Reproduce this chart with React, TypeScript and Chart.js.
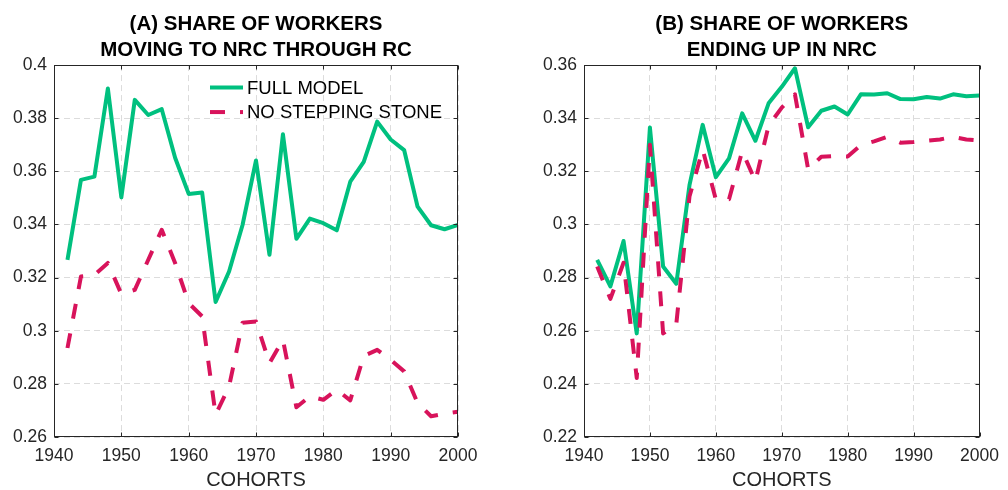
import React, { useEffect, useRef } from "react";
import { Chart, registerables } from "chart.js";

Chart.register(...registerables);

const years = [1942, 1944, 1946, 1948, 1950, 1952, 1954, 1956, 1958, 1960, 1962, 1964, 1966, 1968, 1970, 1972, 1974, 1976, 1978, 1980, 1982, 1984, 1986, 1988, 1990, 1992, 1994, 1996, 1998, 2000];

const fullModelA = [0.3267, 0.3568, 0.358, 0.3912, 0.3502, 0.3869, 0.3812, 0.3834, 0.365, 0.3515, 0.352, 0.3108, 0.3223, 0.3398, 0.3641, 0.3286, 0.374, 0.3346, 0.3422, 0.3405, 0.3378, 0.3561, 0.3636, 0.3787, 0.372, 0.368, 0.3467, 0.3397, 0.3382, 0.3398];
const noSteppingA = [0.2935, 0.3204, 0.321, 0.3255, 0.3138, 0.3154, 0.3267, 0.338, 0.3254, 0.3104, 0.3054, 0.2684, 0.279, 0.303, 0.3035, 0.2878, 0.2966, 0.2712, 0.2753, 0.274, 0.2778, 0.2738, 0.2905, 0.2928, 0.289, 0.2847, 0.2728, 0.2678, 0.2688, 0.2695];

const fullModelB = [0.2867, 0.2767, 0.2938, 0.259, 0.3365, 0.2842, 0.2777, 0.3148, 0.3375, 0.3178, 0.3249, 0.3418, 0.3315, 0.3456, 0.3518, 0.3588, 0.3366, 0.3428, 0.3444, 0.3414, 0.349, 0.3489, 0.3494, 0.3472, 0.3471, 0.348, 0.3474, 0.349, 0.3483, 0.3485];
const noSteppingB = [0.2842, 0.272, 0.2856, 0.2422, 0.33, 0.259, 0.2625, 0.3105, 0.3282, 0.3094, 0.3095, 0.3276, 0.3163, 0.3372, 0.344, 0.349, 0.3208, 0.3255, 0.3258, 0.3256, 0.3299, 0.3313, 0.333, 0.3308, 0.331, 0.3315, 0.332, 0.333, 0.332, 0.3316];

const xTickMin = 1940;
const xTickMax = 2000;
const xTickStep = 10;
const yRangeA = [0.26, 0.4];
const yRangeB = [0.22, 0.36];
const yTickStep = 0.02;

const titleA = ["(A) SHARE OF WORKERS", "MOVING TO NRC THROUGH RC"];
const titleB = ["(B) SHARE OF WORKERS", "ENDING UP IN NRC"];
const xAxisLabel = "COHORTS";
const seriesLabels = ["FULL MODEL", "NO STEPPING STONE"];

const GREEN = "#00C07F";
const RED = "#D8135B";
const AXIS = "#262626";
const GRID = "#dcdcdc";
const FONT = '"Liberation Sans", Arial, Helvetica, sans-serif';
const RED_DASH = [15, 15];

const framePlugin = {
  id: "matlabFrame",
  afterDatasetsDraw(chart: any) {
    const { ctx, chartArea, scales } = chart;
    const l = Math.round(chartArea.left) + 0.5;
    const r = Math.round(chartArea.right) - 0.5;
    const t = Math.round(chartArea.top) + 0.5;
    const b = Math.round(chartArea.bottom) - 0.5;
    ctx.save();
    ctx.strokeStyle = AXIS;
    ctx.lineWidth = 1;
    ctx.setLineDash([]);
    ctx.strokeRect(l, t, r - l, b - t);
    const tl = 4;
    ctx.beginPath();
    scales.x.ticks.forEach((tk: any) => {
      const px = Math.round(scales.x.getPixelForValue(tk.value)) + 0.5;
      ctx.moveTo(px, b);
      ctx.lineTo(px, b - tl);
      ctx.moveTo(px, t);
      ctx.lineTo(px, t + tl);
    });
    scales.y.ticks.forEach((tk: any) => {
      const py = Math.round(scales.y.getPixelForValue(tk.value)) + 0.5;
      ctx.moveTo(l, py);
      ctx.lineTo(l + tl, py);
      ctx.moveTo(r, py);
      ctx.lineTo(r - tl, py);
    });
    ctx.stroke();
    ctx.restore();
  },
};

const insideLegendPlugin = {
  id: "insideLegend",
  afterDraw(chart: any, _args: any, opts: any) {
    if (!opts || !opts.show) return;
    const { ctx, chartArea } = chart;
    ctx.save();
    chart.data.datasets.forEach((ds: any, i: number) => {
      const y = chartArea.top + opts.offsetY + i * opts.rowGap;
      const x0 = chartArea.left + opts.offsetX;
      ctx.strokeStyle = ds.borderColor;
      ctx.lineWidth = 4;
      ctx.lineCap = "butt";
      ctx.setLineDash(ds.borderDash || []);
      ctx.beginPath();
      ctx.moveTo(x0, y);
      ctx.lineTo(x0 + 33, y);
      ctx.stroke();
      ctx.setLineDash([]);
      ctx.fillStyle = "#000";
      ctx.font = `18.5px ${FONT}`;
      ctx.textBaseline = "middle";
      ctx.textAlign = "left";
      ctx.fillText(ds.label, x0 + 37, y + 1);
    });
    ctx.restore();
  },
};

function makeConfig(title: string[], full: number[], noStep: number[], yRange: number[], yAxisWidth: number, padRight: number, showLegend: boolean): any {
  return {
    type: "line",
    data: {
      datasets: [
        {
          label: seriesLabels[0],
          data: years.map((x, i) => ({ x, y: full[i] })),
          borderColor: GREEN,
          backgroundColor: GREEN,
          borderWidth: 4,
          pointRadius: 0,
          tension: 0,
          borderJoinStyle: "round",
          order: 2,
        },
        {
          label: seriesLabels[1],
          data: years.map((x, i) => ({ x, y: noStep[i] })),
          borderColor: RED,
          backgroundColor: RED,
          borderWidth: 4,
          borderDash: RED_DASH,
          pointRadius: 0,
          tension: 0,
          borderJoinStyle: "round",
          order: 1,
        },
      ],
    },
    options: {
      animation: false,
      responsive: false,
      devicePixelRatio: 1,
      layout: { padding: { left: 0, right: padRight, top: 0, bottom: 0 } },
      plugins: {
        legend: { display: false },
        tooltip: { enabled: false },
        title: {
          display: true,
          text: title,
          fullSize: false,
          color: "#000",
          font: { family: FONT, size: 20.5, weight: "bold", lineHeight: 1.27 },
          padding: { top: 11, bottom: 2 },
        },
        insideLegend: { show: showLegend, offsetX: 156, offsetY: 22.5, rowGap: 24.5 },
      },
      scales: {
        x: {
          type: "linear",
          min: xTickMin,
          max: xTickMax,
          afterFit(scale: any) {
            scale.height = 53;
          },
          ticks: {
            stepSize: xTickStep,
            color: AXIS,
            font: { family: FONT, size: 17.5 },
            padding: 9,
            maxRotation: 0,
            callback: (v: any) => String(v),
          },
          grid: { color: GRID, lineWidth: 1, drawTicks: false },
          border: { display: false, dash: [6, 4] },
          title: {
            display: true,
            text: xAxisLabel,
            color: AXIS,
            font: { family: FONT, size: 20, lineHeight: 1 },
            padding: { top: 0, bottom: 0 },
          },
        },
        y: {
          type: "linear",
          min: yRange[0],
          max: yRange[1],
          afterFit(scale: any) {
            scale.width = yAxisWidth;
          },
          ticks: {
            stepSize: yTickStep,
            color: AXIS,
            font: { family: FONT, size: 17.5 },
            padding: 7,
            callback: (v: any) => String(Number(Number(v).toFixed(2))),
          },
          grid: { color: GRID, lineWidth: 1, drawTicks: false },
          border: { display: false, dash: [6, 4] },
        },
      },
    },
    plugins: [framePlugin, insideLegendPlugin],
  };
}

function Panel({ left, config }: { left: number; config: () => any }) {
  const ref = useRef<HTMLCanvasElement>(null);
  useEffect(() => {
    if (!ref.current) return;
    const chart = new Chart(ref.current, config());
    return () => chart.destroy();
  }, []);
  return (
    <canvas
      ref={ref}
      width={504}
      height={490}
      style={{ position: "absolute", left, top: 0, width: 504, height: 490 }}
    />
  );
}

export default function App() {
  return (
    <div style={{ position: "absolute", left: 0, top: 0, width: 1008, height: 490, background: "#fff" }}>
      <Panel left={0} config={() => makeConfig(titleA, fullModelA, noSteppingA, yRangeA, 54, 46, true)} />
      <Panel left={504} config={() => makeConfig(titleB, fullModelB, noSteppingB, yRangeB, 80, 19, false)} />
    </div>
  );
}
